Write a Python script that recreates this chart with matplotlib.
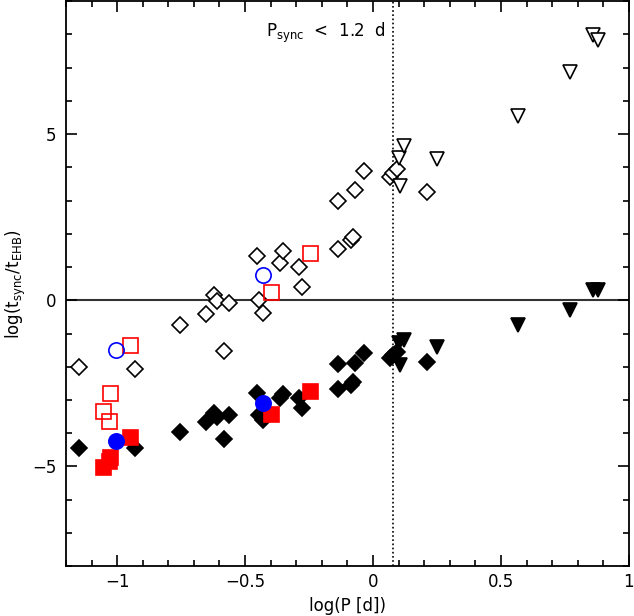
import numpy as np
import matplotlib
matplotlib.use("Agg")
import matplotlib.pyplot as plt
from matplotlib.ticker import MultipleLocator

plt.rcParams['font.family'] = ['DejaVu Sans']
plt.rcParams['mathtext.fontset'] = 'dejavusans'

# Diamonds (open: upper set, filled: lower set)
dia_x = [-1.148, -0.931, -0.756, -0.654, -0.621, -0.608, -0.582, -0.562, -0.455, -0.447,
         -0.429, -0.362, -0.350, -0.291, -0.278, -0.137, -0.135, -0.087, -0.080, -0.069,
         -0.037, 0.067, 0.080, 0.094, 0.212]
dia_open = [-2.02, -2.08, -0.75, -0.40, 0.15, -0.02, -1.52, -0.08, 1.32, 0.02,
            -0.38, 1.13, 1.48, 1.00, 0.40, 3.00, 1.55, 1.82, 1.90, 3.33,
            3.88, 3.70, 3.82, 3.95, 3.25]
dia_fill = [-4.45, -4.45, -3.95, -3.65, -3.40, -3.50, -4.17, -3.45, -2.78, -3.45,
            -3.60, -2.95, -2.83, -2.95, -3.25, -1.92, -2.68, -2.55, -2.45, -1.88,
            -1.58, -1.75, -1.65, -1.55, -1.87]

# Triangles
tri_x = [0.100, 0.107, 0.122, 0.251, 0.565, 0.771, 0.860, 0.878]
tri_open = [4.28, 3.45, 4.65, 4.25, 5.56, 6.88, 7.98, 7.83]
tri_fill = [-1.30, -1.95, -1.20, -1.40, -0.75, -0.28, 0.32, 0.30]

# Red squares
sq_x = [-1.055, -1.030, -1.028, -0.950, -0.399, -0.248]
sq_open = [-3.33, -3.62, -2.80, -1.35, 0.25, 1.43]
sq_fill = [-5.02, -4.85, -4.72, -4.10, -3.42, -2.72]

# Blue circles
ci_x = [-1.004, -0.429]
ci_open = [-1.50, 0.77]
ci_fill = [-4.23, -3.08]

p_sync = 1.2

fig = plt.figure(figsize=(6.34, 6.16), dpi=100)
ax = fig.add_axes([0.104, 0.081, 0.888, 0.917])

ax.axhline(0, color='#333333', lw=1.5, zorder=1)
ax.axvline(np.log10(p_sync), color='black', lw=1.2, ls=(0, (1, 1.5)), zorder=1)

mew = 1.2
ax.plot(dia_x, dia_open, ls='none', marker='D', ms=8.2, mfc='white', mec='black', mew=mew, zorder=3)
ax.plot(dia_x, dia_fill, ls='none', marker='D', ms=8.2, mfc='black', mec='black', mew=mew, zorder=3)
ax.plot(tri_x, tri_open, ls='none', marker='v', ms=10, mfc='white', mec='black', mew=mew, zorder=3)
ax.plot(tri_x, tri_fill, ls='none', marker='v', ms=10, mfc='black', mec='black', mew=mew, zorder=3)
ax.plot(sq_x, sq_open, ls='none', marker='s', ms=10.8, mfc='none', mec='red', mew=mew, zorder=4)
ax.plot(sq_x, sq_fill, ls='none', marker='s', ms=10.8, mfc='red', mec='red', mew=mew, zorder=4)
ax.plot(ci_x, ci_open, ls='none', marker='o', ms=11, mfc='none', mec='blue', mew=mew, zorder=5)
ax.plot(ci_x, ci_fill, ls='none', marker='o', ms=11, mfc='blue', mec='blue', mew=mew, zorder=5)

ax.set_xlim(-1.2, 1.0)
ax.set_ylim(-8, 9)
ax.xaxis.set_major_locator(MultipleLocator(0.5))
ax.xaxis.set_minor_locator(MultipleLocator(0.1))
ax.yaxis.set_major_locator(MultipleLocator(5))
ax.yaxis.set_minor_locator(MultipleLocator(1))
ax.tick_params(which='both', direction='in', top=True, right=True, width=1.2, labelsize=12)
ax.tick_params(which='major', length=8)
ax.tick_params(which='minor', length=4)
ax.tick_params(axis='x', pad=5)
ax.tick_params(axis='y', pad=7)
ax.set_xticks([-1, -0.5, 0, 0.5, 1])
ax.set_xticklabels(['\u22121', '\u22120.5', '0', '0.5', '1'])
ax.set_yticks([-5, 0, 5])
ax.set_yticklabels(['\u22125', '0', '5'])
for s in ax.spines.values():
    s.set_linewidth(1.3)

ax.set_xlabel('log(P [d])', fontsize=12, labelpad=4)
ax.set_ylabel(r'log(t$_{\rm sync}$/t$_{\rm EHB}$)', fontsize=12, labelpad=3)
ax.text(-0.42, 8.05, r'P$_{\rm sync}$  <  1.2  d', fontsize=12, ha='left', va='center')

fig.savefig('out.png', dpi=100)
